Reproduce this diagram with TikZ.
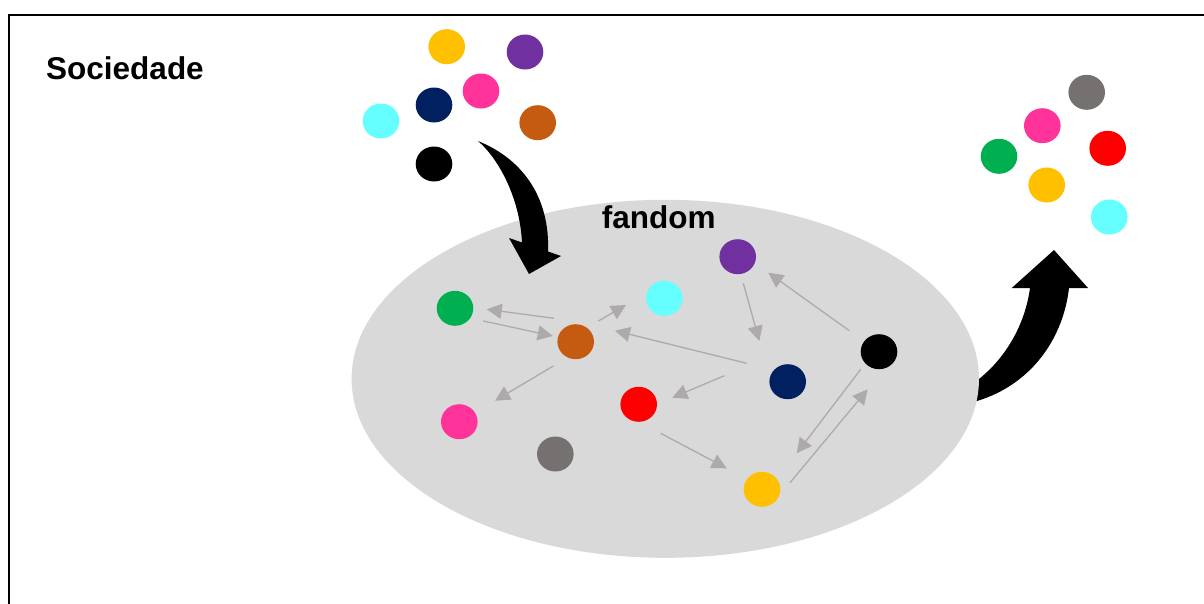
\documentclass[tikz,border=0pt]{standalone}
\usepackage{fontspec}
\setmainfont{Liberation Sans}
\usetikzlibrary{arrows.meta,calc,shapes.geometric}
\definecolor{cyel}{HTML}{FFC000}
\definecolor{cpur}{HTML}{7030A0}
\definecolor{cpnk}{HTML}{FF3399}
\definecolor{cnav}{HTML}{002060}
\definecolor{ccya}{HTML}{66FFFF}
\definecolor{cbro}{HTML}{C55A11}
\definecolor{cgrn}{HTML}{00B050}
\definecolor{cred}{HTML}{FF0000}
\definecolor{cgry}{HTML}{767171}
\definecolor{cell}{HTML}{D9D9D9}
\definecolor{carr}{HTML}{AEAAAA}
\tikzset{
  dot/.style={ellipse, minimum width=36.6pt, minimum height=35pt, inner sep=0pt, fill=#1, draw=none},
  garrow/.style={draw=carr, line width=1.3pt, -{Triangle[length=15pt,width=15pt]}},
  lbl/.style={font=\fontsize{31.5}{34}\selectfont\bfseries, inner sep=0pt, anchor=base west},
  bigarrow/.style={fill=black, draw=none}
}
\begin{document}
\begin{tikzpicture}[x=1pt,y=-1pt]
\useasboundingbox (0,0) rectangle (1204,603);
\fill[white] (0,0) rectangle (1204,603);
% frame
\draw[line width=2.3pt] (9,700) -- (9,15.3) -- (1250,15.3);
\node[lbl] (soc) at (46,79.3) {Sociedade};
% right arrow (behind ellipse)
\fill[bigarrow] (1030,288) -- (1011.7,288) -- (1054,250) -- (1088,288) -- (1069,288)
  .. controls (1063,340) and (1030,385) .. (977,401) -- (960,405) -- (960,388) -- (975,382)
  .. controls (1005,360) and (1025,325) .. (1030,288) -- cycle;
% fandom ellipse
\node[ellipse, fill=cell, minimum width=627.4pt, minimum height=358pt, inner sep=0pt] (fan) at (665.3,378.8) {};
\node[lbl] (fantxt) at (601.7,228.3) {fandom};
% left curved arrow (over ellipse)
\fill[bigarrow] (478,141) .. controls (525,160) and (550,200) .. (548,251.5)
  -- (561,256) -- (529,274) -- (509,238) -- (522,242.5)
  .. controls (520,200) and (500,160) .. (478,141) -- cycle;
% top group
\node[dot=cyel] (tyel) at (446.7,46.7) {};
\node[dot=cpur] (tpur) at (525,52) {};
\node[dot=cpnk] (tpnk) at (481,91) {};
\node[dot=cnav] (tnav) at (434,105) {};
\node[dot=ccya] (tcya) at (381,121) {};
\node[dot=cbro] (tbro) at (537.7,122.7) {};
\node[dot=black] (tblk) at (434,164) {};
% right group
\node[dot=cgry] (rgry) at (1086.7,92.3) {};
\node[dot=cpnk] (rpnk) at (1042.3,125.7) {};
\node[dot=cred] (rred) at (1107.7,148.3) {};
\node[dot=cgrn] (rgrn) at (999,156.3) {};
\node[dot=cyel] (ryel) at (1046.7,185) {};
\node[dot=ccya] (rcya) at (1109.3,217) {};
% fandom members
\node[dot=cgrn] (grn) at (455,308.3) {};
\node[dot=cbro] (bro) at (575.7,341.7) {};
\node[dot=ccya] (cya) at (664.3,298.3) {};
\node[dot=cpur] (pur) at (737.7,256.7) {};
\node[dot=black] (blk) at (879,351.7) {};
\node[dot=cnav] (nav) at (787.7,381.7) {};
\node[dot=cred] (red) at (638.7,404.3) {};
\node[dot=cpnk] (pnk) at (459.3,421.7) {};
\node[dot=cgry] (gry) at (555.3,454) {};
\node[dot=cyel] (yel) at (762,489.3) {};
% connectors
\draw[garrow] ($(bro)+(-21.7,-23.4)$) -- ($(grn)+(31.7,1)$);
\draw[garrow] ($(grn)+(28.3,12.7)$) -- ($(bro)+(-23,-5.7)$);
\draw[garrow] ($(bro)+(22.6,-20.7)$) -- ($(cya)+(-38.3,6.7)$);
\draw[garrow] ($(bro)+(-22.4,24.3)$) -- ($(pnk)+(35.7,-21)$);
\draw[garrow] ($(nav)+(-41,-18.4)$) -- ($(bro)+(39.3,-11)$);
\draw[garrow] ($(pur)+(5.6,26.6)$) -- ($(nav)+(-28.4,-40.7)$);
\draw[garrow] ($(blk)+(-29.7,-21)$) -- ($(pur)+(30.6,16)$);
\draw[garrow] ($(nav)+(-63.4,-6)$) -- ($(red)+(33.6,-6.6)$);
\draw[garrow] ($(red)+(22,29)$) -- ($(yel)+(-35.3,-21)$);
\draw[garrow] ($(blk)+(-18.3,17.6)$) -- ($(yel)+(34.7,-36)$);
\draw[garrow] ($(yel)+(28,-6.6)$) -- ($(blk)+(-11.3,37.6)$);
\end{tikzpicture}
\end{document}
